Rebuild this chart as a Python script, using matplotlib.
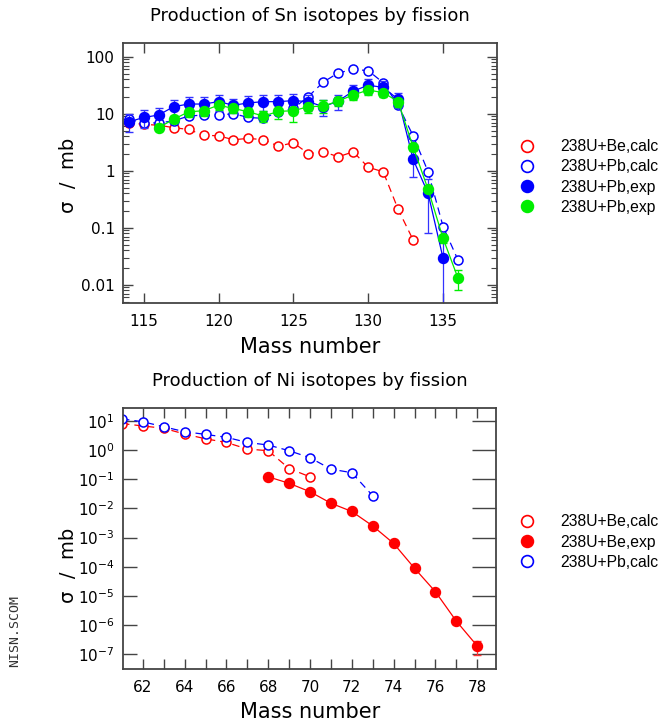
import numpy as np
import matplotlib
matplotlib.use("Agg")
import matplotlib.pyplot as plt
from matplotlib.lines import Line2D
from matplotlib.ticker import FixedLocator, FuncFormatter, LogLocator, NullFormatter, MultipleLocator, LogFormatterSciNotation

# ---------------- Sn data ----------------
sn_be_calc_A = [113, 114, 115, 116, 117, 118, 119, 120, 121, 122, 123, 124, 125, 126, 127, 128, 129, 130, 131, 132, 133]
sn_be_calc_y = [7.5, 7.0, 6.5, 6.3, 5.7, 5.3, 4.2, 4.1, 3.5, 3.7, 3.5, 2.7, 3.1, 2.0, 2.15, 1.76, 2.15, 1.15, 0.96, 0.21, 0.061]

sn_pb_calc_A = [114, 115, 116, 117, 118, 119, 120, 121, 122, 123, 124, 125, 126, 127, 128, 129, 130, 131, 132, 133, 134, 135, 136]
sn_pb_calc_y = [8.0, 6.9, 6.9, 7.5, 9.1, 9.5, 9.5, 10.0, 8.6, 8.3, 10.8, 12.4, 20.0, 36.0, 52.0, 60.0, 57.0, 35.0, 14.0, 4.1, 0.96, 0.105, 0.027]

sn_pb_exp_A = [114, 115, 116, 117, 118, 119, 120, 121, 122, 123, 124, 125, 126, 127, 128, 129, 130, 131, 132, 133, 134, 135]
sn_pb_exp_y = [7.2, 8.6, 9.5, 13.3, 14.8, 14.8, 16.3, 14.1, 15.5, 16.3, 16.3, 17.0, 16.3, 13.3, 16.7, 25.0, 31.6, 29.0, 17.9, 1.58, 0.40, 0.029]
sn_pb_exp_err = [2.5, 3.0, 3.0, 4.0, 4.5, 4.5, 5.0, 4.0, 5.0, 5.0, 5.0, 5.0, 5.0, 4.0, 5.0, 7.0, 9.0, 8.0, 5.5, 0.8, 0.32, 0.03]

sn_pb_exp2_A = [116, 117, 118, 119, 120, 121, 122, 123, 124, 125, 126, 127, 128, 129, 130, 131, 132, 133, 134, 135, 136]
sn_pb_exp2_y = [5.7, 8.0, 10.8, 11.3, 14.1, 12.4, 10.8, 9.1, 11.0, 11.3, 13.3, 13.6, 16.7, 21.4, 26.0, 23.5, 16.3, 2.6, 0.47, 0.065, 0.013]
sn_pb_exp2_err = [0.8, 1.2, 2.0, 2.0, 2.5, 2.2, 2.0, 2.0, 3.0, 4.0, 3.0, 3.5, 3.0, 4.0, 4.5, 4.0, 3.0, 0.4, 0.08, 0.01, 0.005]

# ---------------- Ni data ----------------
ni_be_calc_A = [61, 62, 63, 64, 65, 66, 67, 68, 69, 70]
ni_be_calc_y = [8.0, 6.6, 5.5, 3.5, 2.4, 1.8, 1.07, 0.94, 0.23, 0.12]

ni_be_exp_A = [68, 69, 70, 71, 72, 73, 74, 75, 76, 77, 78]
ni_be_exp_y = [0.12, 0.072, 0.037, 0.015, 0.0078, 0.0025, 0.00063, 8.9e-5, 1.4e-5, 1.38e-6, 1.95e-7]
ni_be_exp_err = [0.01, 0.006, 0.003, 0.0012, 0.0006, 0.0002, 5e-5, 7e-6, 1.1e-6, 0.3e-6, 1.0e-7]

ni_pb_calc_A = [61, 62, 63, 64, 65, 66, 67, 68, 69, 70, 71, 72, 73]
ni_pb_calc_y = [11.5, 9.2, 6.2, 4.2, 3.4, 2.7, 1.8, 1.47, 0.94, 0.54, 0.22, 0.166, 0.027]

sn_ticks = [115, 120, 125, 130, 135]
sn_yticks = [0.01, 0.1, 1, 10, 100]
ni_xticks = [62, 64, 66, 68, 70, 72, 74, 76, 78]

RED = "#ff0000"
BLUE = "#0000ff"
GREEN = "#00ee00"
SPINE = "#444444"

plt.rcParams["font.family"] = ["DejaVu Sans"]

fig = plt.figure(figsize=(6.65, 7.25), dpi=100)
W, H = 665.0, 725.0

def axrect(l, t, r, b):
    return [l / W, 1 - b / H, (r - l) / W, (b - t) / H]

ax1 = fig.add_axes(axrect(123, 43, 497, 303))
ax2 = fig.add_axes(axrect(123, 408, 496, 669))

dash = (0, (6, 4))
ms_o = 6.5
ms_f = 7.2

# --- Sn plot
ax1.plot(sn_be_calc_A, sn_be_calc_y, ls=dash, color=RED, lw=0.9, marker="o", ms=ms_o,
         mfc="white", mec=RED, mew=1.1)
ax1.plot(sn_pb_calc_A, sn_pb_calc_y, ls=dash, color=BLUE, lw=0.9, marker="o", ms=ms_o,
         mfc="white", mec=BLUE, mew=1.1)
ax1.errorbar(sn_pb_exp_A, sn_pb_exp_y, yerr=sn_pb_exp_err, color=BLUE, lw=0.9, marker="o",
             ms=ms_f, mfc=BLUE, mec=BLUE, ecolor="#3333ff", elinewidth=0.9, capsize=3)
ax1.errorbar(sn_pb_exp2_A, sn_pb_exp2_y, yerr=sn_pb_exp2_err, color=GREEN, lw=0.9, marker="o",
             ms=ms_f, mfc=GREEN, mec=GREEN, ecolor=GREEN, elinewidth=0.9, capsize=3)

ax1.set_yscale("log")
ax1.set_xlim(113.62, 138.6)
ax1.set_ylim(0.0048, 174)
ax1.xaxis.set_major_locator(FixedLocator(sn_ticks))
ax1.yaxis.set_major_locator(FixedLocator(sn_yticks))
ax1.yaxis.set_major_formatter(FuncFormatter(lambda v, p: "%g" % v))
ax1.yaxis.set_minor_locator(LogLocator(base=10, subs=np.arange(2, 10)))
ax1.yaxis.set_minor_formatter(NullFormatter())
ax1.tick_params(which="both", direction="in", top=True, right=True, color=SPINE, labelsize=11)
ax1.tick_params(which="major", length=7, width=1)
ax1.tick_params(which="minor", length=4, width=0.8)
ax1.tick_params(axis="x", pad=8)
ax1.tick_params(axis="y", pad=6)

# --- Ni plot
ax2.plot(ni_be_calc_A, ni_be_calc_y, ls=dash, color=RED, lw=0.9, marker="o", ms=ms_o,
         mfc="white", mec=RED, mew=1.1)
ax2.errorbar(ni_be_exp_A, ni_be_exp_y, yerr=ni_be_exp_err, color=RED, lw=0.9, marker="o",
             ms=ms_f, mfc=RED, mec=RED, ecolor="#ff3333", elinewidth=0.9, capsize=3)
ax2.plot(ni_pb_calc_A, ni_pb_calc_y, ls=dash, color=BLUE, lw=0.9, marker="o", ms=ms_o,
         mfc="white", mec=BLUE, mew=1.1)

ax2.set_yscale("log")
ax2.set_xlim(61.05, 78.9)
ax2.set_ylim(10 ** -7.5, 10 ** 1.435)
ax2.xaxis.set_major_locator(FixedLocator(ni_xticks))
ax2.xaxis.set_minor_locator(MultipleLocator(1))
ax2.yaxis.set_major_locator(LogLocator(base=10, numticks=20))
ax2.yaxis.set_major_formatter(LogFormatterSciNotation())
ax2.yaxis.set_minor_locator(FixedLocator([]))
ax2.tick_params(which="both", direction="in", top=True, right=True, color=SPINE, labelsize=11)
ax2.tick_params(which="major", length=7, width=1)
ax2.tick_params(which="minor", length=7, width=1)
ax2.tick_params(axis="y", which="major", length=10)
ax2.tick_params(axis="x", pad=8)
ax2.tick_params(axis="y", pad=6)

for ax in (ax1, ax2):
    for s in ax.spines.values():
        s.set_color(SPINE)
        s.set_linewidth(1.3)

# --- texts
fig.text(310 / W, 1 - 16 / H, "Production of Sn isotopes by fission", ha="center", va="center", fontsize=13)
fig.text(310 / W, 1 - 381 / H, "Production of Ni isotopes by fission", ha="center", va="center", fontsize=13)
fig.text(310 / W, 1 - 347 / H, "Mass number", ha="center", va="center", fontsize=15)
fig.text(310 / W, 1 - 712 / H, "Mass number", ha="center", va="center", fontsize=15)
fig.text(68 / W, 1 - 175 / H, "σ  /  mb", ha="center", va="center", rotation=90, fontsize=14)
fig.text(68 / W, 1 - 565 / H, "σ  /  mb", ha="center", va="center", rotation=90, fontsize=14)
fig.text(15 / W, 1 - 631 / H, "NISN.SCOM", ha="center", va="center", rotation=90,
         fontsize=9.5, family="DejaVu Sans Mono", color="#333333")

# --- legends
def mk(color, filled):
    return Line2D([], [], ls="none", marker="o", ms=8.5, mec=color, mew=1.2,
                  mfc=color if filled else "white")

h1 = [mk(RED, False), mk(BLUE, False), mk(BLUE, True), mk(GREEN, True)]
l1 = ["238U+Be,calc", "238U+Pb,calc", "238U+Pb,exp", "238U+Pb,exp"]
leg1 = fig.legend(h1, l1, loc="center left", bbox_to_anchor=(519 / W, 1 - 177 / H),
                  frameon=False, handlelength=1.0, handletextpad=1.6, labelspacing=0.32,
                  borderpad=0, borderaxespad=0, prop={"family": "Liberation Sans", "size": 11.3})

h2 = [mk(RED, False), mk(RED, True), mk(BLUE, False)]
l2 = ["238U+Be,calc", "238U+Be,exp", "238U+Pb,calc"]
leg2 = fig.legend(h2, l2, loc="center left", bbox_to_anchor=(519 / W, 1 - 542 / H),
                  frameon=False, handlelength=1.0, handletextpad=1.6, labelspacing=0.32,
                  borderpad=0, borderaxespad=0, prop={"family": "Liberation Sans", "size": 11.3})

# longer right-side ticks on the Ni panel
fig.canvas.draw()
for t in ax2.yaxis.get_major_ticks():
    t.tick2line.set_markersize(17)

fig.savefig("out.png", dpi=100)
